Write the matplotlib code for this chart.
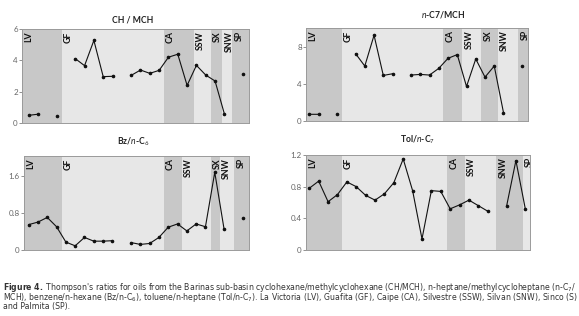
import numpy as np
import matplotlib
matplotlib.use("Agg")
import matplotlib.pyplot as plt

plt.rcParams['font.family'] = ['Lato', 'DejaVu Sans']
plt.rcParams['mathtext.fontset'] = 'custom'
plt.rcParams['mathtext.rm'] = 'Lato'
plt.rcParams['mathtext.it'] = 'Lato:italic'
plt.rcParams['mathtext.bf'] = 'Lato:bold'

nan = np.nan
idx = np.arange(24)

ch_mch = [0.49, 0.56, nan, 0.47, nan, 4.11, 3.66, 5.27, 2.96, 2.98, nan, 3.04,
          3.38, 3.17, 3.36, 4.20, 4.39, 2.40, 3.68, 3.06, 2.68, 0.58, nan, 3.13]
nc7_mch = [0.72, 0.72, nan, 0.72, nan, 7.24, 5.91, 9.22, 4.90, 5.08, nan, 4.94,
           5.01, 4.94, 5.66, 6.74, 7.14, 3.71, 6.67, 4.72, 5.91, 0.90, nan, 5.91]
bz_nc6 = [0.545, 0.60, 0.70, 0.50, 0.17, 0.09, 0.27, 0.19, 0.19, 0.20, nan, 0.16,
          0.12, 0.14, 0.27, 0.49, 0.56, 0.41, 0.56, 0.50, 1.67, 0.45, nan, 0.68]
tol_nc7 = [0.78, 0.87, 0.61, 0.70, 0.86, 0.80, 0.69, 0.63, 0.71, 0.85, 1.15, 0.75,
           0.14, 0.75, 0.74, 0.52, 0.57, 0.63, 0.56, 0.49, nan, 0.55, 1.13, 0.52]

# oil field bands (edges in sample-index units) for each panel
labels_a = ["LV", "GF", "CA", "SSW", "SX", "SNW", "SP"]
edges_ch = [-0.71, 3.54, 14.5, 17.71, 19.54, 20.79, 21.86, 23.64]
edges_nc7 = [-0.36, 3.5, 14.48, 16.53, 18.59, 20.4, 22.6, 23.65]
edges_bz = [-0.5, 3.54, 14.52, 16.45, 19.56, 20.53, 22.07, 23.68]
labels_tol = ["LV", "GF", "CA", "SSW", "SNW", "SP"]
edges_tol = [-0.35, 3.44, 14.66, 16.54, 19.88, 22.72, 23.5]

DARK = "#c8c8c8"
LIGHT = "#e7e7e7"

fig = plt.figure(figsize=(5.79, 3.16), dpi=100)


def panel(rect, y, edges, labels, ylim, yticks, yticklabels, title, title_x, title_y):
    ax = fig.add_axes(rect)
    for i, lab in enumerate(labels):
        col = DARK if i % 2 == 0 else LIGHT
        ax.axvspan(edges[i], edges[i + 1], color=col, lw=0, zorder=0)
        ax.text(edges[i] + 0.25, ylim[1] * 0.975, lab, rotation=90, ha='left', va='top',
                fontsize=6.3, fontweight='bold', color='#111111', clip_on=True)
    ax.plot(idx, y, color='#111111', lw=0.8, marker='o', ms=1.6, zorder=3)
    ax.set_xlim(edges[0], edges[-1])
    ax.set_ylim(*ylim)
    ax.set_xticks([])
    ax.set_yticks(yticks)
    ax.set_yticklabels(yticklabels)
    ax.tick_params(axis='y', length=2, width=0.5, pad=1, labelsize=5.8, colors='#666666')
    for s in ax.spines.values():
        s.set_color('#9a9a9a')
        s.set_linewidth(0.7)
    fig.text(title_x / 579, 1 - title_y / 316, title, ha='center', va='center',
             fontsize=6.2, fontweight='bold', color='#222222')
    return ax


panel([22 / 579, 1 - 123 / 316, 227 / 579, 94 / 316], ch_mch, edges_ch, labels_a,
      (0, 6), [0, 2, 4, 6], ["0", "2", "4", "6"], "CH / MCH", 133, 20)
panel([306 / 579, 1 - 121 / 316, 222 / 579, 93 / 316], nc7_mch, edges_nc7, labels_a,
      (0, 10), [0, 4, 8], ["0", "4", "8"], r"$\mathit{n}$-C7/MCH", 443, 15)
panel([24 / 579, 1 - 250 / 316, 225 / 579, 94 / 316], bz_nc6, edges_bz, labels_a,
      (0, 2.02), [0, 0.8, 1.6], ["0", "0.8", "1.6"], r"Bz/$\mathit{n}$-C$_6$", 133, 142)
panel([306 / 579, 1 - 250 / 316, 224 / 579, 95 / 316], tol_nc7, edges_tol, labels_tol,
      (0, 1.2), [0, 0.4, 0.8, 1.2], ["0", "0.4", "0.8", "1.2"], r"Tol/$\mathit{n}$-C$_7$", 418, 140)

caption = "\n".join([
    r"$\mathbf{Figure\ 4.}$ Thompson's ratios for oils from the Barinas sub-basin "
    r"cyclohexane/methylcyclohexane (CH/MCH), n-heptane/methylcycloheptane (n-C$_7$/",
    r"MCH), benzene/n-hexane (Bz/n-C$_6$), toluene/n-heptane (Tol/n-C$_7$). "
    r"La Victoria (LV), Guafita (GF), Caipe (CA), Silvestre (SSW), Silvan (SNW), Sinco (S)",
    "and Palmita (SP).",
])
fig.text(3 / 579, 1 - 296 / 316, caption, ha='left', va='center', fontsize=5.6,
         linespacing=0.72, family='DejaVu Sans', math_fontfamily='dejavusans', color='#333333')

fig.savefig("out.png", dpi=100)
